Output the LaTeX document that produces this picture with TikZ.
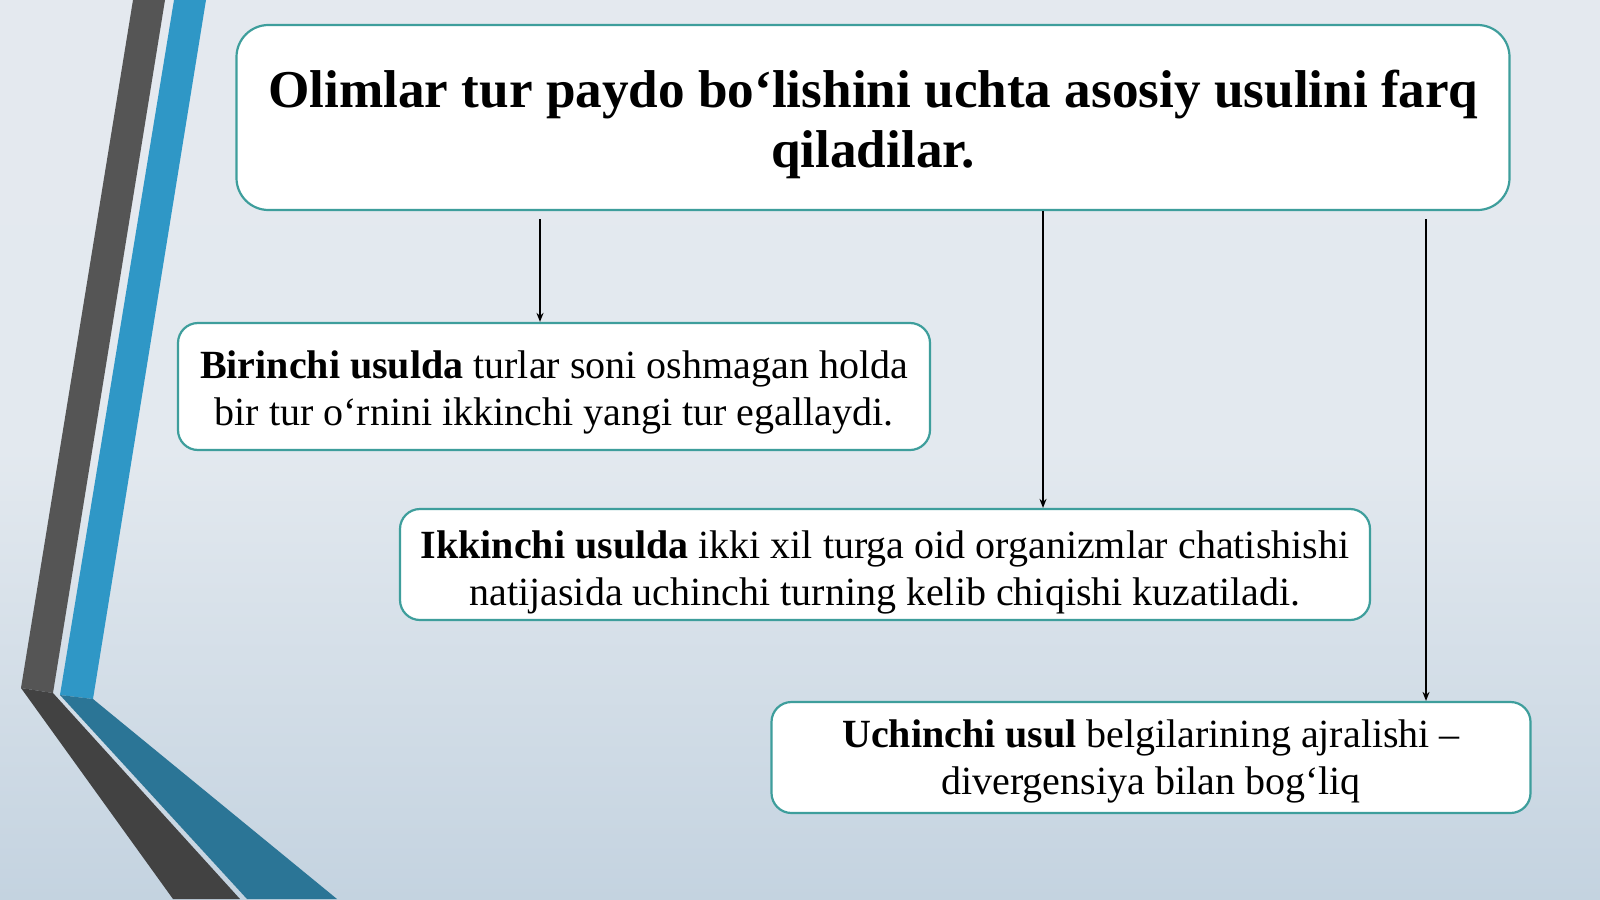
\documentclass[tikz,border=0pt]{standalone}
\usepackage{fontspec}
\setmainfont{Liberation Serif}
\usetikzlibrary{arrows.meta,calc}
\definecolor{bgtop}{HTML}{E4E9EF}
\definecolor{bgmid}{HTML}{E3E9EF}
\definecolor{bgbot}{HTML}{C4D3E0}
\definecolor{boxline}{HTML}{3E9E9C}
\definecolor{grayup}{HTML}{555555}
\definecolor{graylow}{HTML}{424242}
\definecolor{blueup}{HTML}{2F97C6}
\definecolor{bluelow}{HTML}{2B7596}
\begin{document}
\begin{tikzpicture}[x=1pt,y=-1pt,
  box/.style={draw=boxline, line width=2.2pt, fill=white, rounded corners=20pt, inner sep=0pt},
  txt/.style={align=center, inner sep=0pt, font=\fontsize{40}{47}\selectfont},
  arr/.style={-{Stealth[length=9pt,width=7pt]}, line width=1.8pt, black}]
% background
\useasboundingbox (0,0) rectangle (1600,899);
\shade[top color=bgtop, bottom color=bgbot, middle color=bgmid] (0,0) rectangle (1600,899);
% decorative stripes
\fill[grayup] (133,0) -- (165,0) -- (53,693) -- (21,688) -- cycle;
\fill[graylow] (21,688) -- (53,693) -- (240,899) -- (173,899) -- cycle;
\fill[blueup] (174,0) -- (206,0) -- (93,699) -- (60,695) -- cycle;
\fill[bluelow] (60,695) -- (93,699) -- (337,899) -- (247,899) -- cycle;
% boxes
\node[box, minimum width=1273pt, minimum height=185pt, rounded corners=32pt] (title) at (873,117.5) {};
\node[txt, font=\bfseries\fontsize{53.2}{60}\selectfont] (ttitle) at ($(title.center)+(0,7)$)
  {Olimlar tur paydo bo‘lishini uchta asosiy usulini farq\\qiladilar.};
\node[box, minimum width=752pt, minimum height=127pt] (b1) at (554,386.5) {};
\node[txt] (t1) at ($(b1.center)+(0,5.7)$)
  {\textbf{Birinchi usulda} turlar soni oshmagan holda\\bir tur o‘rnini ikkinchi yangi tur egallaydi.};
\node[box, minimum width=970pt, minimum height=111pt] (b2) at (885,564.5) {};
\node[txt] (t2) at ($(b2.center)+(0,7.7)$)
  {\textbf{Ikkinchi usulda} ikki xil turga oid organizmlar chatishishi\\natijasida uchinchi turning kelib chiqishi kuzatiladi.};
\node[box, minimum width=759pt, minimum height=111pt] (b3) at (1151,757.5) {};
\node[txt] (t3) at ($(b3.center)+(0,4.2)$)
  {\textbf{Uchinchi usul} belgilarining ajralishi –\\divergensiya bilan bog‘liq};
% arrows
\coordinate (a1) at (540,0);
\coordinate (a2) at (1043,0);
\coordinate (a3) at (1426,0);
\draw[arr, shorten <=8pt] (title.south -| a1) -- (b1.north -| a1);
\draw[arr] (title.south -| a2) -- (b2.north -| a2);
\draw[arr, shorten <=8pt] (title.south -| a3) -- (b3.north -| a3);
\end{tikzpicture}
\end{document}
